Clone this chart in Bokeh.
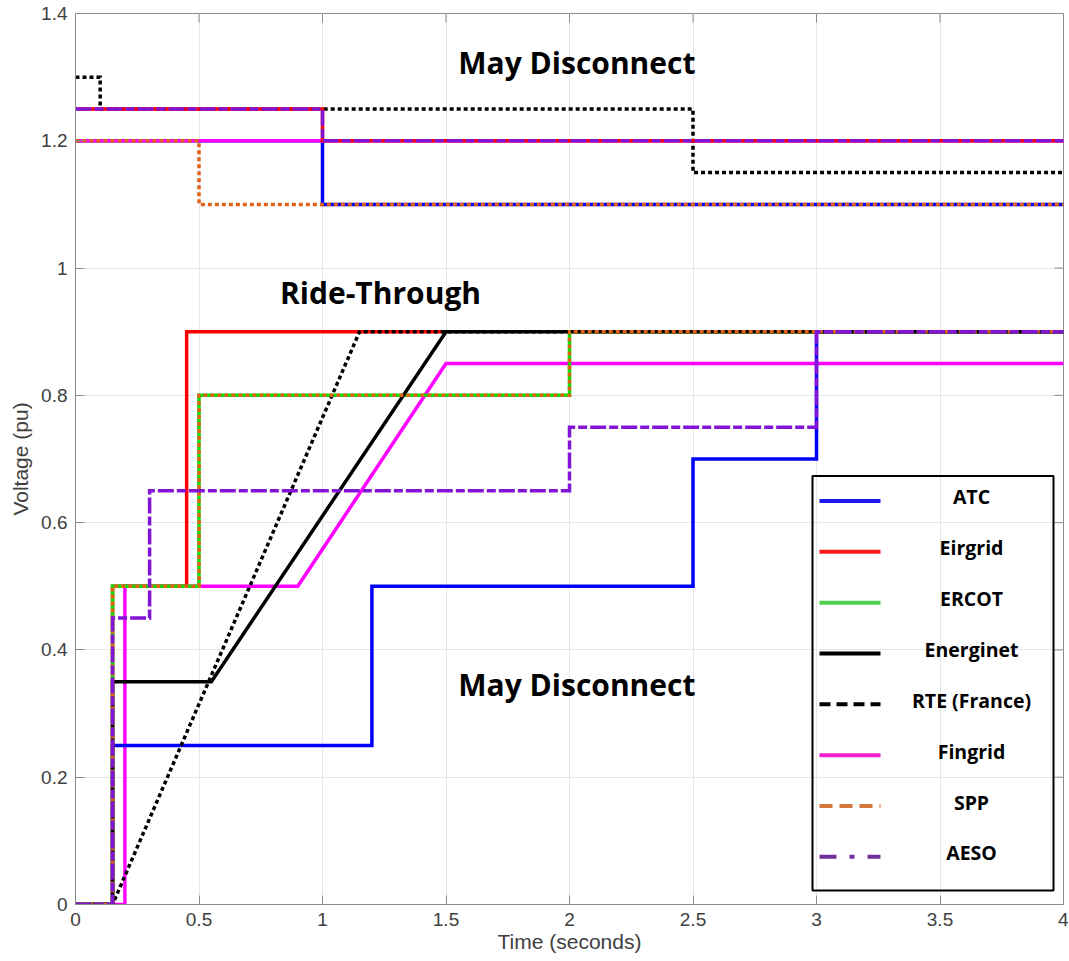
import numpy as np
from bokeh.plotting import figure
from bokeh.models import Label, BoxAnnotation, Range1d, FixedTicker
from bokeh.embed import file_html
from bokeh.resources import INLINE

# ---------------- data ----------------
x_ticks = [0, 0.5, 1, 1.5, 2, 2.5, 3, 3.5, 4]
x_tick_labels = ["0", "0.5", "1", "1.5", "2", "2.5", "3", "3.5", "4"]
y_ticks = [0, 0.2, 0.4, 0.6, 0.8, 1.0, 1.2, 1.4]
y_tick_labels = ["0", "0.2", "0.4", "0.6", "0.8", "1", "1.2", "1.4"]

# lower (under-voltage) ride-through curves
atc_lo_t = [0, 0.15, 0.15, 1.2, 1.2, 2.5, 2.5, 3, 3, 4]
atc_lo_v = [0, 0, 0.25, 0.25, 0.5, 0.5, 0.7, 0.7, 0.9, 0.9]
eir_lo_t = [0, 0.15, 0.15, 0.45, 0.45, 1.5]
eir_lo_v = [0, 0, 0.5, 0.5, 0.9, 0.9]
erc_lo_t = [0, 0.15, 0.15, 0.5, 0.5, 2, 2, 4]
erc_lo_v = [0, 0, 0.5, 0.5, 0.8, 0.8, 0.9, 0.9]
ene_lo_t = [0, 0.15, 0.15, 0.55, 1.5, 4]
ene_lo_v = [0, 0, 0.35, 0.35, 0.9, 0.9]
rte_lo_t = [0, 0.15, 1.15, 4]
rte_lo_v = [0, 0, 0.9, 0.9]
fin_lo_t = [0, 0.2, 0.2, 0.9, 1.5, 4]
fin_lo_v = [0, 0, 0.5, 0.5, 0.85, 0.85]
spp_lo_t = [0, 0.15, 0.15, 0.5, 0.5, 2, 2, 4]
spp_lo_v = [0, 0, 0.5, 0.5, 0.8, 0.8, 0.9, 0.9]
aes_lo_t = [0, 0.15, 0.15, 0.3, 0.3, 2, 2, 3, 3, 4]
aes_lo_v = [0, 0, 0.45, 0.45, 0.65, 0.65, 0.75, 0.75, 0.9, 0.9]

# upper (over-voltage) curves
atc_hi_t = [0, 1, 1, 4]
atc_hi_v = [1.2, 1.2, 1.1, 1.1]
eir_hi_t = [0, 1, 1, 4]
eir_hi_v = [1.25, 1.25, 1.2, 1.2]
rte_hi_t = [0, 0.1, 0.1, 2.5, 2.5, 4]
rte_hi_v = [1.3, 1.3, 1.25, 1.25, 1.15, 1.15]
fin_hi_t = [0, 4]
fin_hi_v = [1.2, 1.2]
spp_hi_t = [0, 0.5, 0.5, 4]
spp_hi_v = [1.2, 1.2, 1.1, 1.1]
aes_hi_t = [0, 1, 1, 4]
aes_hi_v = [1.25, 1.25, 1.2, 1.2]

legend_names = ["ATC", "Eirgrid", "ERCOT", "Energinet", "RTE (France)",
                "Fingrid", "SPP", "AESO"]

# ---------------- layout / styles ----------------
W, H = 1068, 955
BL, BR, BT, BB = 75, 5, 13, 50
FW, FH = W - BL - BR, H - BT - BB          # frame size in px
X0, X1, Y0, Y1 = 0, 4, 0, 1.4


def px_x(px):   # frame-relative px (from left) -> data x
    return X0 + (X1 - X0) * px / FW


def px_y(px):   # frame-relative px (from top) -> data y
    return Y1 - (Y1 - Y0) * px / FH


BLUE = "#0000FF"
RED = "#FF0000"
GREEN = "#00E600"
BLACK = "#000000"
MAGENTA = "#FF00FF"
ORANGE = "#E0631A"
PURPLE = "#8214D6"
LW = 3.5
DOT = "4 3"
DASHDOT = "16 3 9 3"
AXC = "#8C8C8C"

p = figure(width=W, height=H, x_range=Range1d(X0, X1), y_range=Range1d(Y0, Y1),
           output_backend="svg", toolbar_location=None, title=None,
           min_border_left=BL, min_border_right=BR, min_border_top=BT,
           min_border_bottom=BB)

p.background_fill_color = "white"
p.outline_line_color = AXC
p.outline_line_width = 1

for ax in (p.xaxis[0], p.yaxis[0]):
    ax.axis_line_color = AXC
    ax.major_tick_line_color = AXC
    ax.major_tick_in = 9
    ax.major_tick_out = 0
    ax.minor_tick_line_color = None
    ax.major_label_text_color = "#404040"
    ax.major_label_text_font = "Liberation Sans"
    ax.major_label_text_font_size = "19px"
    ax.axis_label_text_color = "#404040"
    ax.axis_label_text_font = "Liberation Sans"
    ax.axis_label_text_font_size = "21px"
    ax.axis_label_text_font_style = "normal"

p.xaxis.ticker = FixedTicker(ticks=x_ticks)
p.yaxis.ticker = FixedTicker(ticks=y_ticks)
p.xaxis.major_label_overrides = dict(zip(x_ticks, x_tick_labels))
p.yaxis.major_label_overrides = dict(zip(y_ticks, y_tick_labels))
p.xaxis.axis_label = "Time (seconds)"
p.yaxis.axis_label = "Voltage (pu)"
p.xaxis.major_label_standoff = 8
p.xaxis.axis_label_standoff = 1
p.yaxis.major_label_standoff = 8
p.yaxis.axis_label_standoff = 6

p.xgrid.ticker = FixedTicker(ticks=x_ticks)
p.ygrid.ticker = FixedTicker(ticks=y_ticks)
p.grid.grid_line_color = "#E6E6E6"
p.grid.grid_line_width = 1

# box-style inner ticks on the top and right edges
tick_dx = px_x(9) - X0
tick_dy = Y1 - px_y(9)
p.segment(x0=[X1] * len(y_ticks), y0=y_ticks, x1=[X1 - tick_dx] * len(y_ticks),
          y1=y_ticks, line_color=AXC, line_width=1)
p.segment(x0=x_ticks, y0=[Y1] * len(x_ticks), x1=x_ticks,
          y1=[Y1 - tick_dy] * len(x_ticks), line_color=AXC, line_width=1)


def draw(t, v, color, dash="solid"):
    p.line(t, v, line_color=color, line_width=LW, line_dash=dash,
           line_join="miter", line_cap="butt")


# upper curves
draw(atc_hi_t, atc_hi_v, BLUE)
draw(fin_hi_t, fin_hi_v, MAGENTA)
draw(rte_hi_t, rte_hi_v, BLACK, DOT)
draw(eir_hi_t, eir_hi_v, RED)
draw(spp_hi_t, spp_hi_v, ORANGE, DOT)
draw(aes_hi_t, aes_hi_v, PURPLE, DASHDOT)

# lower curves
draw(fin_lo_t, fin_lo_v, MAGENTA)
draw(atc_lo_t, atc_lo_v, BLUE)
draw(eir_lo_t, eir_lo_v, RED)
draw(erc_lo_t, erc_lo_v, GREEN)
draw(ene_lo_t, ene_lo_v, BLACK)
draw(rte_lo_t, rte_lo_v, BLACK, DOT)
draw(spp_lo_t, spp_lo_v, ORANGE, DOT)
draw(aes_lo_t, aes_lo_v, PURPLE, DASHDOT)

# ---------------- legend (drawn as a boxed key) ----------------
leg_styles = [("#1A1AF0", "solid"), ("#FF1A1A", "solid"), ("#4DD04D", "solid"),
              ("#000000", "solid"), ("#000000", "11 6"), ("#F020D0", "solid"),
              ("#D4773C", "13 7"), ("#7030A0", "17 13 5 13")]
LEG_L, LEG_R, LEG_T, LEG_B = 737, 978, 463, 878     # frame px
SAMPLE_L, SAMPLE_R, LABEL_X = 744, 805, 896
ROW0, ROW_STEP = 488, 50.9

p.add_layout(BoxAnnotation(left=px_x(LEG_L), right=px_x(LEG_R),
                           top=px_y(LEG_T), bottom=px_y(LEG_B),
                           fill_color="white", fill_alpha=0,
                           line_color="black", line_alpha=1, line_width=2))
for i, (name, (c, d)) in enumerate(zip(legend_names, leg_styles)):
    ry = ROW0 + i * ROW_STEP
    p.line([px_x(SAMPLE_L), px_x(SAMPLE_R)], [px_y(ry), px_y(ry)],
           line_color=c, line_width=4, line_dash=d, line_cap="butt")
    p.add_layout(Label(x=px_x(LABEL_X), y=px_y(ry - 4), text=name,
                       text_align="center", text_baseline="middle",
                       text_font="Open Sans", text_font_style="bold",
                       text_font_size="19.5px", text_color="black"))

# region labels
for tx, ty, txt in [(2.03, 1.323, "May Disconnect"), (1.235, 0.961, "Ride-Through"),
                    (2.03, 0.345, "May Disconnect")]:
    p.add_layout(Label(x=tx, y=ty, text=txt, text_align="center",
                       text_baseline="middle", text_font="Open Sans",
                       text_font_style="bold", text_font_size="30px",
                       text_color="black"))

open("out.html", "w").write(file_html(p, INLINE))
